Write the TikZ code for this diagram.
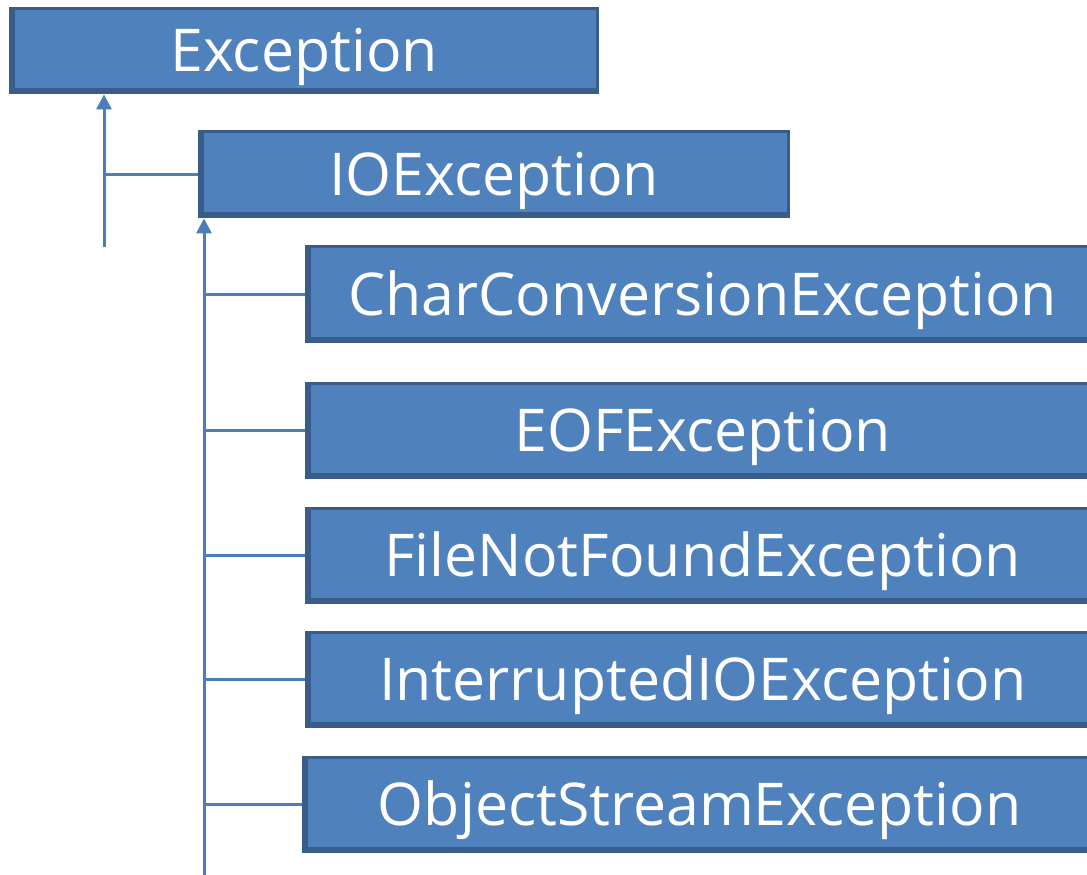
\documentclass[tikz,border=0pt]{standalone}
\usepackage{fontspec}
\setmainfont{Open Sans}
\usetikzlibrary{arrows.meta}
\definecolor{boxfill}{RGB}{79,129,189}
\definecolor{boxedge}{RGB}{56,93,138}
\definecolor{linkblue}{RGB}{74,126,187}
\tikzset{
  classbox/.style={anchor=north west, inner sep=0pt, fill=boxedge,
    text=white, font=\fontsize{59}{66}\selectfont,
    text height=42pt, text depth=0pt,
    path picture={\fill[boxfill]
      ([xshift=6pt,yshift=6pt]path picture bounding box.south west) rectangle
      ([xshift=-3pt,yshift=-3pt]path picture bounding box.north east);}},
  link/.style={draw=linkblue, line width=3pt},
  inherit/.style={link, -{Triangle[width=15pt,length=15pt]}},
}
\begin{document}
\begin{tikzpicture}[x=1pt,y=-1pt]
\useasboundingbox (0,0) rectangle (1087,875);
\clip (0,0) rectangle (1087,875);
% class boxes
\node[classbox, minimum width=590pt, minimum height=87pt] (exc) at (9,7) {Exception};
\node[classbox, minimum width=592pt, minimum height=88pt] (ioe) at (198,130) {IOException};
\node[classbox, minimum width=795pt, minimum height=98pt] (ccx) at (305,245) {CharConversionException};
\node[classbox, minimum width=795pt, minimum height=97pt] (eof) at (305,382) {EOFException};
\node[classbox, minimum width=795pt, minimum height=97pt] (fnf) at (305,507) {FileNotFoundException};
\node[classbox, minimum width=795pt, minimum height=97pt] (iio) at (305,631) {InterruptedIOException};
\node[classbox, minimum width=795pt, minimum height=97pt] (ose) at (302,756) {ObjectStreamException};
% inheritance trunks
\coordinate (t1) at (104,247);
\coordinate (t2) at (204,880);
\draw[inherit] (t1) -- (exc.south west -| t1);
\draw[link] (ioe.west |- 0,174) -- (t1 |- 0,174);
\draw[inherit] (t2) -- (ioe.south west -| t2);
% branches to subclasses
\foreach \n in {ccx,eof,fnf,iio,ose}
  \draw[link] (\n.west) -- (\n.west -| t2);
\end{tikzpicture}
\end{document}
